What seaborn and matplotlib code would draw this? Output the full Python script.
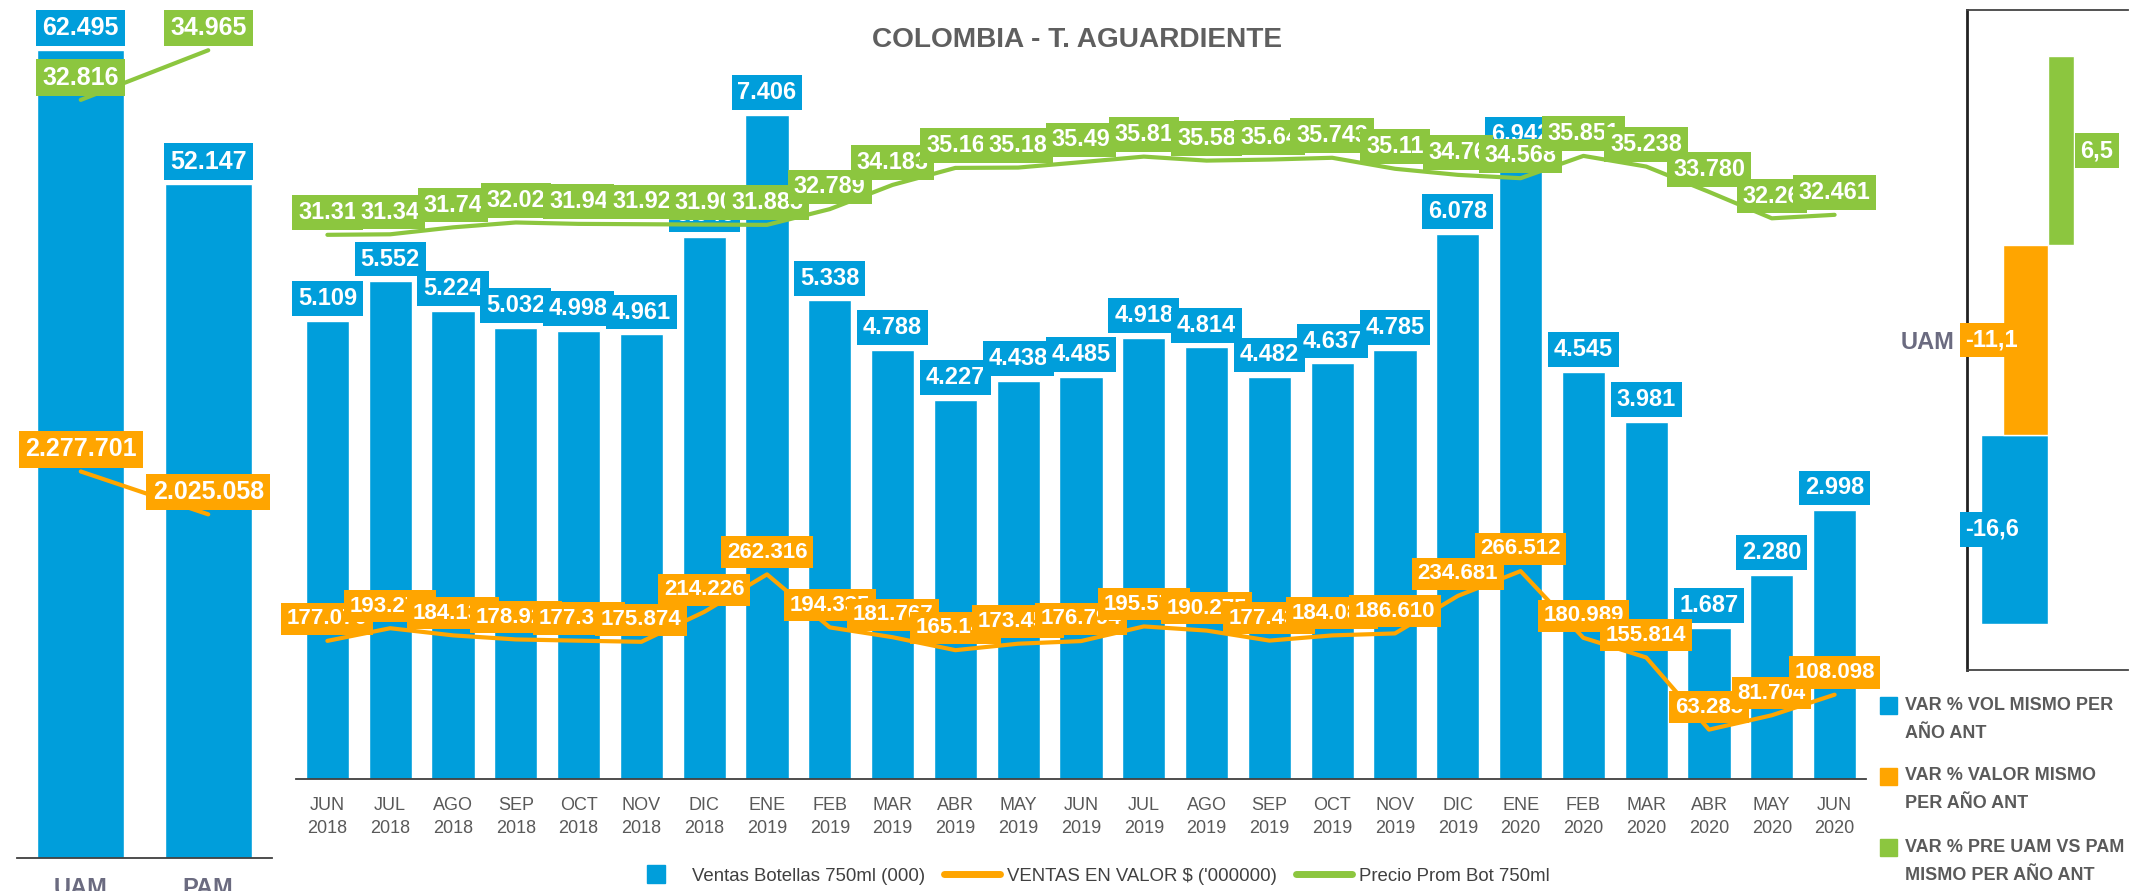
import numpy as np
import pandas as pd
import matplotlib
matplotlib.use("Agg")
import matplotlib.pyplot as plt
import seaborn as sns
from matplotlib import font_manager
from matplotlib.lines import Line2D
from matplotlib.patches import Rectangle

# ---- data ----
meses = ["JUN\n2018", "JUL\n2018", "AGO\n2018", "SEP\n2018", "OCT\n2018", "NOV\n2018",
         "DIC\n2018", "ENE\n2019", "FEB\n2019", "MAR\n2019", "ABR\n2019", "MAY\n2019",
         "JUN\n2019", "JUL\n2019", "AGO\n2019", "SEP\n2019", "OCT\n2019", "NOV\n2019",
         "DIC\n2019", "ENE\n2020", "FEB\n2020", "MAR\n2020", "ABR\n2020", "MAY\n2020", "JUN\n2020"]
ventas = [5.109, 5.552, 5.224, 5.032, 4.998, 4.961, 6.046, 7.406, 5.338, 4.788, 4.227, 4.438,
          4.485, 4.918, 4.814, 4.482, 4.637, 4.785, 6.078, 6.942, 4.545, 3.981, 1.687, 2.280, 2.998]
valor = [177.070, 193.277, 184.135, 178.925, 177.318, 175.874, 214.226, 262.316, 194.335, 181.767,
         165.148, 173.450, 176.794, 195.573, 190.275, 177.432, 184.089, 186.610, 234.681, 266.512,
         180.989, 155.814, 63.285, 81.704, 108.098]
precio = [31.31, 31.34, 31.74, 32.02, 31.94, 31.92, 31.90, 31.883, 32.789, 34.183, 35.16, 35.18,
          35.49, 35.81, 35.58, 35.64, 35.743, 35.11, 34.76, 34.568, 35.851, 35.238, 33.780, 32.26, 32.461]
precio_txt = ["31.31", "31.34", "31.74", "32.02", "31.94", "31.92", "31.90", "31.883", "32.789",
              "34.183", "35.16", "35.18", "35.49", "35.81", "35.58", "35.64", "35.743", "35.11",
              "34.76", "34.568", "35.851", "35.238", "33.780", "32.26", "32.461"]

periodos = ["UAM", "PAM"]
ventas_per = [62.495, 52.147]
valor_per = [2277.701, 2025.058]
precio_per = [32.816, 34.965]

var_series = ["VAR % VOL MISMO PER\nAÑO ANT", "VAR % VALOR MISMO\nPER AÑO ANT",
              "VAR % PRE UAM VS PAM\nMISMO PER AÑO ANT"]
var_values = [-16.6, -11.1, 6.5]

BLUE = "#009EDB"
ORANGE = "#FFA500"
GREEN = "#8CC63F"
GRAY = "#5f5f5f"

sns.set_style("white")
disponibles = {f.name for f in font_manager.fontManager.ttflist}
if "Liberation Sans Narrow" in disponibles:
    NARROW, ns = "Liberation Sans Narrow", 1.0
else:
    NARROW, ns = "Liberation Sans", 0.84
plt.rcParams["font.family"] = ["Liberation Sans", "DejaVu Sans"]

W, H = 2149, 891
fig = plt.figure(figsize=(W / 100, H / 100), dpi=100)


def caja(x0, y0, x1, y1):
    return [x0 / W, 1 - y1 / H, (x1 - x0) / W, (y1 - y0) / H]


def miles(v):
    return f"{v * 1000:,.0f}".replace(",", ".")


def etiqueta(ax, x, y, txt, fc, size, fam="Liberation Sans", dy=16):
    ax.annotate(txt, (x, y), xytext=(0, dy), textcoords="offset points", ha="center", va="center",
                fontsize=size, fontweight="bold", color="white", family=fam,
                bbox=dict(boxstyle="square,pad=0.25", fc=fc, ec="none"), annotation_clip=False)


# ---- left panel: UAM / PAM ----
ax_l = fig.add_axes(caja(17, 0, 272, 858))
sns.barplot(x=periodos, y=ventas_per, color=BLUE, saturation=1, width=0.68, ax=ax_l)
ax_l.set_ylim(0, 66.36)
ax_lo = ax_l.twinx()
ax_lg = ax_l.twinx()
pos_p = np.arange(len(periodos))
sns.lineplot(x=pos_p, y=valor_per, color=ORANGE, linewidth=3, ax=ax_lo)
sns.lineplot(x=pos_p, y=precio_per, color=GREEN, linewidth=3, ax=ax_lg)
ax_lo.set_ylim(0, 5056)
ax_lg.set_ylim(0, 37.14)
for a in (ax_lo, ax_lg):
    a.set_axis_off()
for i, v in enumerate(ventas_per):
    etiqueta(ax_l, i, v, miles(v), BLUE, 18)
for i, v in enumerate(valor_per):
    etiqueta(ax_lo, i, v, miles(v), ORANGE, 18)
for i, v in enumerate(precio_per):
    etiqueta(ax_lg, i, v, miles(v), GREEN, 18)
ax_l.set_xlim(-0.5, 1.5)
for s in ("top", "right", "left"):
    ax_l.spines[s].set_visible(False)
ax_l.spines["bottom"].set_color("#3f3f3f")
ax_l.spines["bottom"].set_linewidth(1.3)
ax_l.set_yticks([])
ax_l.set_xticks([-0.5, 0.5, 1.5], minor=True)
ax_l.tick_params(axis="x", which="minor", length=6, width=1.2, color="#3f3f3f", direction="out")
ax_l.tick_params(axis="x", which="major", length=0, pad=14)
ax_l.set_xticks(pos_p)
ax_l.set_xticklabels(periodos, fontsize=17, fontweight="bold", color="#6b6b80")
ax_l.set_xlabel("")
ax_l.set_ylabel("")

# ---- central panel: monthly ----
ax_c = fig.add_axes(caja(296, 20, 1866, 779))
pos = np.arange(len(meses))
sns.barplot(x=meses, y=ventas, color=BLUE, saturation=1, width=0.69, ax=ax_c)
ax_c.set_ylim(0, 8.466)
ax_co = ax_c.twinx()
ax_cg = ax_c.twinx()
sns.lineplot(x=pos, y=valor, color=ORANGE, linewidth=3, ax=ax_co)
sns.lineplot(x=pos, y=precio, color=GREEN, linewidth=3, ax=ax_cg)
ax_co.set_ylim(0, 973)
ax_cg.set_ylim(0, 43.67)
for a in (ax_co, ax_cg):
    a.set_axis_off()
for i, v in enumerate(ventas):
    etiqueta(ax_c, i, v, miles(v), BLUE, 17)
for i, v in enumerate(valor):
    etiqueta(ax_co, i, v, miles(v), ORANGE, 16)
for i, v in enumerate(precio):
    etiqueta(ax_cg, i, v, precio_txt[i], GREEN, 20 * ns, fam=NARROW)
ax_c.set_xlim(-0.5, len(meses) - 0.5)
for s in ("top", "right", "left"):
    ax_c.spines[s].set_visible(False)
ax_c.spines["bottom"].set_color("#3f3f3f")
ax_c.spines["bottom"].set_linewidth(1.3)
ax_c.set_yticks([])
ax_c.set_xticks(np.arange(-0.5, len(meses), 1), minor=True)
ax_c.tick_params(axis="x", which="minor", length=6, width=1.2, color="#3f3f3f", direction="out")
ax_c.tick_params(axis="x", which="major", length=0, pad=13)
ax_c.set_xticks(pos)
ax_c.set_xticklabels(meses, fontsize=13, color="#595959", linespacing=1.45)
ax_c.set_xlabel("")
ax_c.set_ylabel("")

fig.text(1077 / W, 1 - 40 / H, "COLOMBIA - T. AGUARDIENTE", ha="center", va="center",
         fontsize=24 * ns, fontweight="bold", color=GRAY, family=NARROW)

leg = fig.legend(
    handles=[Line2D([], [], marker="s", color=BLUE, markersize=13, linestyle="none"),
             Line2D([], [], color=ORANGE, linewidth=5),
             Line2D([], [], color=GREEN, linewidth=5)],
    labels=["Ventas Botellas 750ml (000)", "VENTAS EN VALOR $ ('000000)", "Precio Prom Bot 750ml"],
    loc="center", bbox_to_anchor=(1089 / W, 1 - 876 / H), ncol=3, frameon=False,
    prop=dict(family=NARROW, size=16 * ns), labelcolor="#404040",
    handlelength=3.0, handletextpad=0.4, columnspacing=1.0)

# ---- right panel: variations ----
ax_r = fig.add_axes(caja(1967, 10, 2128, 670))
df_var = pd.DataFrame({"cat": ["UAM"] * 3, "serie": var_series, "valor": var_values})
sns.barplot(data=df_var, x="valor", y="cat", hue="serie", hue_order=var_series,
            palette=dict(zip(var_series, [BLUE, ORANGE, GREEN])), orient="h", width=0.86,
            saturation=1, errorbar=None, legend=False, ax=ax_r)
ax_r.set_xlim(-20, 20)
ax_r.set_ylim(-0.5, 0.5)
for p in ax_r.patches:
    w = p.get_width()
    yc = p.get_y() + p.get_height() / 2
    txt = f"{w:.1f}".replace(".", ",")
    if w < 0:
        xy, off = (-20, yc), (-1, 0)
    else:
        xy, off = (w, yc), (5, 0)
    ax_r.annotate(txt, xy, xytext=off, textcoords="offset points", ha="left", va="center",
                  fontsize=17, fontweight="bold", color="white",
                  bbox=dict(boxstyle="square,pad=0.25", fc=p.get_facecolor(), ec="none"),
                  annotation_clip=False)
ax_r.spines["right"].set_visible(False)
ax_r.spines["left"].set_linewidth(2)
ax_r.spines["left"].set_color("#222222")
for s in ("top", "bottom"):
    ax_r.spines[s].set_linewidth(1.3)
    ax_r.spines[s].set_color("#444444")
ax_r.tick_params(axis="x", which="both", length=0, labelbottom=False)
ax_r.set_yticks([0])
ax_r.set_yticklabels(["UAM"], fontsize=17, fontweight="bold", color="#6b6b80")
ax_r.set_yticks([-0.5, 0.5], minor=True)
ax_r.tick_params(axis="y", which="major", length=0, pad=9)
ax_r.tick_params(axis="y", which="minor", length=5, width=1.3, color="#444444", direction="out")
ax_r.set_xlabel("")
ax_r.set_ylabel("")

# right legend (square aligned with first line)
for i, (serie, c) in enumerate(zip(var_series, [BLUE, ORANGE, GREEN])):
    y0 = 705 + i * 71
    fig.add_artist(Rectangle((1880 / W, 1 - (y0 + 8.5) / H), 17 / W, 17 / H,
                             transform=fig.transFigure, color=c))
    for j, linea in enumerate(serie.split("\n")):
        fig.text(1905 / W, 1 - (y0 + j * 28) / H, linea, ha="left", va="center",
                 fontsize=13, fontweight="bold", color="#5a5a5a")

fig.savefig("out.png", dpi=100)
